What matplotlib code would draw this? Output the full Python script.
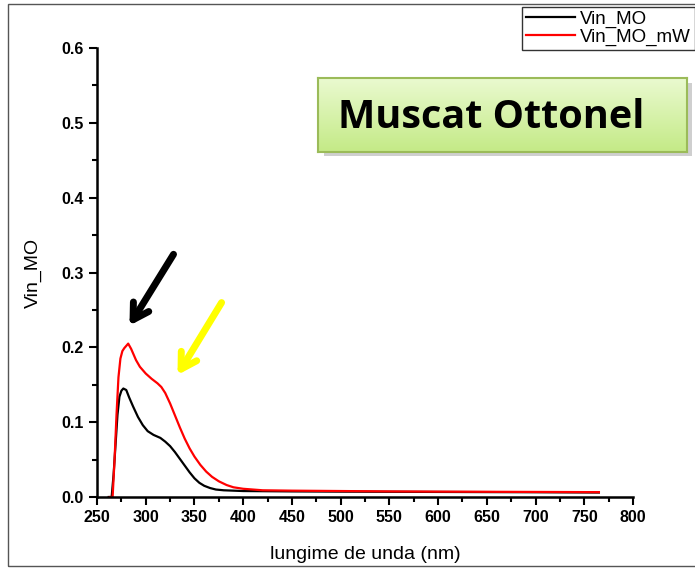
import matplotlib.pyplot as plt
import numpy as np
from matplotlib.patches import FancyBboxPatch, Rectangle
from matplotlib.ticker import MultipleLocator
from matplotlib import font_manager

# absorbance curves
wl_mo = [262, 265, 267, 269, 271, 273, 275, 277, 280, 283, 287, 292, 297, 302, 308,
         315, 320, 325, 330, 335, 340, 345, 350, 355, 360, 366, 372, 380, 390, 400,
         420, 450, 500, 550, 600, 650, 700, 765]
abs_mo = [0.0, 0.0, 0.03, 0.07, 0.11, 0.134, 0.142, 0.145, 0.143, 0.133, 0.121, 0.107,
          0.096, 0.088, 0.083, 0.079, 0.074, 0.068, 0.060, 0.051, 0.042, 0.033, 0.025,
          0.019, 0.015, 0.012, 0.010, 0.009, 0.0085, 0.008, 0.0078, 0.0075, 0.0072,
          0.007, 0.0068, 0.0066, 0.0064, 0.006]

wl_mw = [263, 266, 268, 270, 272, 274, 276, 278, 280, 282, 285, 290, 294, 300, 306,
         312, 316, 320, 325, 330, 335, 340, 345, 350, 356, 362, 368, 375, 383, 390,
         400, 420, 450, 500, 550, 600, 650, 700, 765]
abs_mw = [0.0, 0.0, 0.05, 0.11, 0.16, 0.185, 0.195, 0.199, 0.202, 0.205, 0.198, 0.183,
          0.174, 0.165, 0.158, 0.152, 0.147, 0.139, 0.125, 0.109, 0.093, 0.078, 0.065,
          0.054, 0.043, 0.034, 0.027, 0.021, 0.016, 0.013, 0.011, 0.009, 0.0085,
          0.008, 0.0075, 0.0072, 0.007, 0.0068, 0.0065]

x_ticks = list(range(250, 801, 50))
y_ticks = [0.0, 0.1, 0.2, 0.3, 0.4, 0.5, 0.6]

# narrow Arial-like face if it is there
names = {f.name for f in font_manager.fontManager.ttflist}
narrow = 'Liberation Sans Narrow' if 'Liberation Sans Narrow' in names else 'Liberation Sans'
plt.rcParams['font.family'] = [narrow, 'DejaVu Sans']

fig = plt.figure(figsize=(6.95, 5.69), dpi=100)
fig.patches.append(Rectangle((0.011, 0.006), 1.2, 0.987, transform=fig.transFigure,
                             fill=False, edgecolor='#555555', linewidth=1.0))
ax = fig.add_axes([0.1396, 0.1265, 0.7712, 0.7891])

ax.plot(wl_mo, abs_mo, color='black', linewidth=1.6, label='Vin_MO')
ax.plot(wl_mw, abs_mw, color='red', linewidth=1.6, label='Vin_MO_mW')

ax.set_xlim(250, 800)
ax.set_ylim(0, 0.6)
ax.set_xticks(x_ticks)
ax.set_yticks(y_ticks)
ax.set_yticklabels([f"{v:.1f}" for v in y_ticks])
ax.xaxis.set_minor_locator(MultipleLocator(25))
ax.yaxis.set_minor_locator(MultipleLocator(0.05))
ax.tick_params(which='major', direction='out', length=6, width=1.5, labelsize=11.5)
ax.tick_params(which='minor', direction='out', length=3.5, width=1.5)
for lbl in ax.get_xticklabels() + ax.get_yticklabels():
    lbl.set_fontweight('bold')
for s in ['top', 'right']:
    ax.spines[s].set_visible(False)
for s in ['left', 'bottom']:
    ax.spines[s].set_linewidth(1.8)

ax.set_xlabel('lungime de unda (nm)', fontsize=14, labelpad=15)
ax.set_ylabel('Vin_MO', fontsize=14, labelpad=14)

leg = fig.legend(loc='upper right', bbox_to_anchor=(1.0, 0.988), frameon=True,
                 fancybox=False, edgecolor='black', fontsize=13.5, handlelength=2.6,
                 borderpad=0.2, labelspacing=0.05, handletextpad=0.3, borderaxespad=0)
leg.get_frame().set_linewidth(1.0)

# green title box
shadow = FancyBboxPatch((0.466, 0.725), 0.53, 0.13, boxstyle='square,pad=0',
                        transform=fig.transFigure, facecolor='#b0b0b0',
                        edgecolor='none', alpha=0.6, zorder=4)
fig.patches.append(shadow)
grad = np.linspace(0, 1, 256).reshape(-1, 1)
gax = fig.add_axes([0.458, 0.733, 0.53, 0.13], zorder=5)
gax.imshow(grad, aspect='auto', extent=[0, 1, 0, 1],
           cmap=plt.matplotlib.colors.LinearSegmentedColormap.from_list(
               'g', ['#eafad0', '#c4ea86']))
gax.set_xticks([])
gax.set_yticks([])
for s in gax.spines.values():
    s.set_edgecolor('#9bbb59')
    s.set_linewidth(1.5)
gax.text(0.47, 0.47, 'Muscat Ottonel', ha='center', va='center', fontsize=28.5,
         fontweight='bold', family='Open Sans', color='black')

ax.annotate('', xy=(281.8, 0.226), xytext=(330.0, 0.3275),
            arrowprops=dict(arrowstyle='->,head_length=1.1,head_width=0.65',
                            color='black', linewidth=5))
ax.annotate('', xy=(331.1, 0.160), xytext=(379.3, 0.263),
            arrowprops=dict(arrowstyle='->,head_length=1.1,head_width=0.65',
                            color='yellow', linewidth=5))

fig.savefig('out.png', dpi=100)
